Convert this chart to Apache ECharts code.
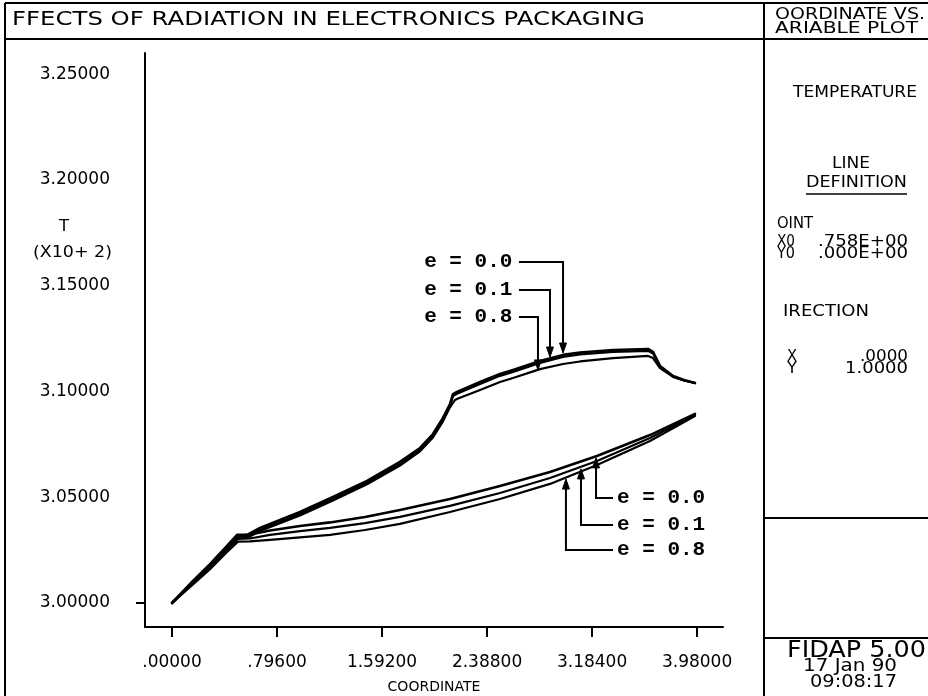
<!DOCTYPE html>
<html>
<head>
<meta charset="utf-8">
<script src="https://cdn.jsdelivr.net/npm/echarts@6/dist/echarts.min.js"></script>
<style>
  html, body { margin: 0; padding: 0; background: #fff; }
  #chart { width: 928px; height: 696px; }
</style>
</head>
<body>
<div id="chart"></div>
<script>
// Temperature T (x10^2) along the sampling line, for three emissivities e.
// Upper family of curves
const upperX = [0, 0.159, 0.288, 0.417, 0.493, 0.576, 0.667, 0.970, 1.220, 1.478, 1.728, 1.880, 1.978, 2.054, 2.107, 2.130, 2.160, 2.335, 2.486, 2.585, 2.789, 2.964, 3.093, 3.343, 3.608, 3.646, 3.699, 3.798, 3.881, 3.964];
const upperE00 = [3.0000, 3.0104, 3.0184, 3.0270, 3.0322, 3.0324, 3.0355, 3.0430, 3.0501, 3.0577, 3.0667, 3.0733, 3.0799, 3.0875, 3.0941, 3.0988, 3.0998, 3.1045, 3.1083, 3.1102, 3.1144, 3.1173, 3.1184, 3.1196, 3.1201, 3.1187, 3.1121, 3.1073, 3.1054, 3.1040];
const upperE01 = [3.0000, 3.0100, 3.0176, 3.0262, 3.0314, 3.0316, 3.0346, 3.0421, 3.0492, 3.0568, 3.0658, 3.0724, 3.0790, 3.0866, 3.0932, 3.0979, 3.0989, 3.1036, 3.1074, 3.1093, 3.1135, 3.1164, 3.1175, 3.1187, 3.1192, 3.1180, 3.1117, 3.1070, 3.1052, 3.1040];
const upperX08 = [0, 0.159, 0.288, 0.417, 0.493, 0.576, 0.667, 0.970, 1.220, 1.478, 1.728, 1.880, 1.978, 2.054, 2.107, 2.145, 2.168, 2.335, 2.486, 2.585, 2.789, 2.964, 3.093, 3.343, 3.608, 3.646, 3.699, 3.798, 3.881, 3.964];
const upperE08 = [3.0000, 3.0097, 3.0173, 3.0256, 3.0308, 3.0310, 3.0340, 3.0414, 3.0485, 3.0561, 3.0650, 3.0717, 3.0783, 3.0859, 3.0925, 3.0960, 3.0967, 3.1007, 3.1045, 3.1064, 3.1106, 3.1130, 3.1142, 3.1158, 3.1168, 3.1158, 3.1111, 3.1069, 3.1052, 3.1040];

// Lower family of curves
const lowerX = [0, 0.159, 0.288, 0.417, 0.500, 0.591, 0.743, 0.970, 1.198, 1.463, 1.728, 2.107, 2.486, 2.865, 3.221, 3.623, 3.964];
const lowerE00 = [3.0000, 3.0099, 3.0178, 3.0263, 3.0317, 3.0324, 3.0343, 3.0364, 3.0381, 3.0407, 3.0440, 3.0492, 3.0553, 3.0619, 3.0695, 3.0794, 3.0894];
const lowerE01 = [3.0000, 3.0094, 3.0170, 3.0252, 3.0303, 3.0305, 3.0322, 3.0340, 3.0355, 3.0378, 3.0407, 3.0459, 3.0520, 3.0591, 3.0671, 3.0780, 3.0889];
const lowerE08 = [3.0000, 3.0088, 3.0160, 3.0241, 3.0290, 3.0291, 3.0298, 3.0310, 3.0322, 3.0345, 3.0374, 3.0430, 3.0492, 3.0563, 3.0652, 3.0766, 3.0884];

// Axis tick labels
const xTickValues = [0, 0.796, 1.592, 2.388, 3.184, 3.98];
const yTickValues = [3.00, 3.05, 3.10, 3.15, 3.20, 3.25];

// Callouts: arrow tip (x, y), elbow height, leader end x, text anchor x, text
const annTipX = [2.964, 2.865, 2.774, 3.214, 3.100, 2.986];
const annTipY = [3.1182, 3.1163, 3.1102, 3.0686, 3.0634, 3.0586];
const annElbowY = [3.1612, 3.1480, 3.1352, 3.0496, 3.0369, 3.0251];
const annLeaderX = [2.630, 2.630, 2.630, 3.343, 3.343, 3.343];
const annTextX = [2.580, 2.580, 2.580, 3.373, 3.373, 3.373];
const annText = ['e = 0.0', 'e = 0.1', 'e = 0.8', 'e = 0.0', 'e = 0.1', 'e = 0.8'];

const INK = '#000';
const FONT = '"DejaVu Sans"';

function pairs(xs, ys) { return xs.map((x, i) => [x, ys[i]]); }

function fmt(v) {
  const s = v.toFixed(5);
  return s.charAt(0) === '0' ? s.slice(1) : s;
}

// Plotter-style text: sized by height, stretched to the given width
const measureCtx = document.createElement('canvas').getContext('2d');
function fitText(str, left, cy, size, width) {
  const font = 'normal ' + size + 'px ' + FONT;
  measureCtx.font = font;
  const w = measureCtx.measureText(str).width || width;
  return {
    type: 'text', x: left, y: cy, scaleX: width / w, z: 10,
    style: { text: str, font: font, fill: INK, align: 'left', verticalAlign: 'middle',
             textAlign: 'left', textVerticalAlign: 'middle' }
  };
}
function rule(x1, y1, x2, y2, w) {
  return { type: 'line', z: 10, shape: { x1: x1, y1: y1, x2: x2, y2: y2 },
           style: { stroke: INK, lineWidth: w || 2 } };
}

function curve(name, xs, ys, width) {
  return {
    name: name, type: 'line', data: pairs(xs, ys), showSymbol: false, symbol: 'none',
    lineStyle: { color: INK, width: width || 2.2, cap: 'round', join: 'round' },
    itemStyle: { color: INK }, silent: true, clip: false
  };
}

const chart = echarts.init(document.getElementById('chart'), null, { renderer: 'canvas' });

const graphics = [
  // frame
  rule(5, 3, 928, 3),
  rule(5, 3, 5, 696),
  rule(5, 39, 928, 39),
  rule(764, 3, 764, 696),
  rule(764, 518, 928, 518),
  rule(764, 638, 928, 638),
  // heading
  fitText('FFECTS OF RADIATION IN ELECTRONICS PACKAGING', 12, 20, 20, 633),
  // side panel
  fitText('OORDINATE VS.', 775, 15, 15, 150),
  fitText('ARIABLE PLOT', 775, 29, 15, 143),
  fitText('TEMPERATURE', 793, 93, 16, 124),
  fitText('LINE', 832, 164, 16, 38),
  fitText('DEFINITION', 806, 183, 16, 101),
  rule(806, 194, 907, 194, 1.5),
  fitText('OINT', 777, 224, 16, 36),
  fitText('X0', 777, 242, 15, 18),
  fitText('.758E+00', 818, 242, 15, 90),
  fitText('Y0', 777, 254, 15, 18),
  fitText('.000E+00', 818, 254, 15, 90),
  fitText('IRECTION', 783, 312, 16, 86),
  fitText('X', 787, 357, 15, 10),
  fitText('.0000', 860, 357, 15, 48),
  fitText('Y', 787, 369, 15, 10),
  fitText('1.0000', 845, 369, 15, 63),
  fitText('FIDAP 5.00', 787, 651, 23, 139),
  fitText('17 Jan 90', 803, 667, 17, 94),
  fitText('09:08:17', 810, 683, 17, 87),
  // y axis title
  fitText('T', 59, 227, 15, 10),
  fitText('(X10+ 2)', 33, 253, 15, 79)
];

const option = {
  animation: false,
  backgroundColor: '#fff',
  grid: { left: 145, right: 205, top: 53, bottom: 69, containLabel: false, outerBoundsMode: 'none' },
  xAxis: {
    type: 'value', min: -0.2047, max: 4.1765,
    name: 'COORDINATE', nameLocation: 'middle', nameGap: 53,
    nameTextStyle: { color: INK, fontFamily: FONT, fontSize: 14 },
    axisLine: { show: true, onZero: false, lineStyle: { color: INK, width: 2 } },
    axisTick: { show: true, length: 10, customValues: xTickValues, lineStyle: { color: INK, width: 2 } },
    axisLabel: { show: true, customValues: xTickValues, formatter: fmt, margin: 27,
                 color: INK, fontFamily: FONT, fontSize: 17 },
    splitLine: { show: false }
  },
  yAxis: {
    type: 'value', min: 2.98865, max: 3.26005,
    axisLine: { show: true, onZero: false, lineStyle: { color: INK, width: 2 } },
    axisTick: { show: true, length: 9, customValues: [yTickValues[0]], lineStyle: { color: INK, width: 2 } },
    axisLabel: { show: true, customValues: yTickValues, formatter: fmt, margin: 35,
                 color: INK, fontFamily: FONT, fontSize: 17 },
    splitLine: { show: false }
  },
  graphic: graphics,
  series: [
    curve('upper e=0.8', upperX08, upperE08),
    curve('upper e=0.1', upperX, upperE01),
    curve('upper e=0.0', upperX, upperE00, 2.6),
    curve('lower e=0.8', lowerX, lowerE08),
    curve('lower e=0.1', lowerX, lowerE01),
    curve('lower e=0.0', lowerX, lowerE00, 2.6),
    {
      name: 'callouts', type: 'custom', clip: false, silent: true,
      data: annTipX.map((x, i) => [x, annTipY[i], annElbowY[i], annLeaderX[i], annTextX[i]]),
      renderItem: function (params, api) {
        const tip = api.coord([api.value(0), api.value(1)]);
        const elbow = api.coord([api.value(0), api.value(2)]);
        const lead = api.coord([api.value(3), api.value(2)]);
        const txt = api.coord([api.value(4), api.value(2)]);
        const above = elbow[1] < tip[1];
        const headLen = 10, headW = 3.5;
        const base = tip[1] + (above ? -headLen : headLen);
        return {
          type: 'group',
          children: [
            { type: 'polyline', shape: { points: [lead, elbow, [tip[0], base]] },
              style: { stroke: INK, lineWidth: 2, fill: null } },
            { type: 'polygon', shape: { points: [[tip[0], tip[1]], [tip[0] - headW, base], [tip[0] + headW, base]] },
              style: { fill: INK, stroke: INK, lineWidth: 1 } },
            { type: 'text', x: txt[0], y: txt[1],
              style: { text: annText[params.dataIndex], font: 'bold 21px "Liberation Mono"', fill: INK,
                       align: above ? 'right' : 'left', verticalAlign: 'middle',
                       textAlign: above ? 'right' : 'left', textVerticalAlign: 'middle' } }
          ]
        };
      }
    }
  ]
};

chart.setOption(option);
</script>
</body>
</html>
